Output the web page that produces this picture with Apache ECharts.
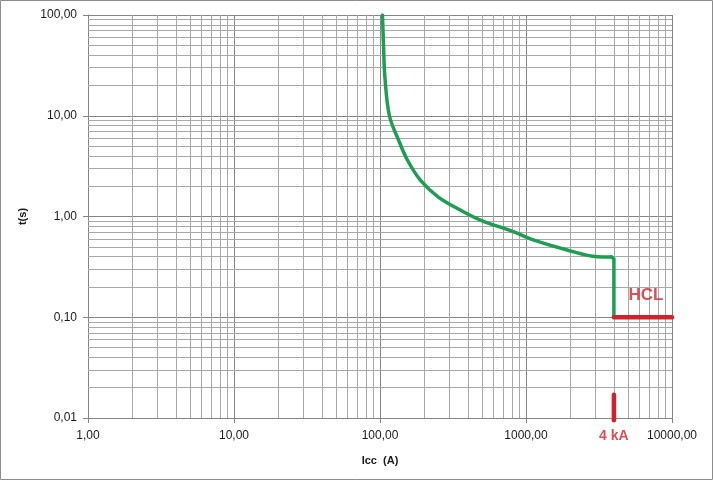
<!DOCTYPE html>
<html>
<head>
<meta charset="utf-8">
<script src="https://cdn.jsdelivr.net/npm/echarts@6/dist/echarts.min.js"></script>
<style>
html,body{margin:0;padding:0;background:#fff;}
#chart{width:713px;height:480px;}
</style>
</head>
<body>
<div id="chart"></div>
<script>
// Trip curve (Icc in A, t in s) - smooth part
var curveX = [104, 105.7, 108, 116, 134, 154, 189, 251, 355, 487, 818, 1121, 1914, 3070, 3850];
var curveY = [100, 50, 24.3, 10, 5.74, 3.64, 2.30, 1.56, 1.16, 0.923, 0.707, 0.585, 0.465, 0.399, 0.397];
// Trip curve - final step down to HCL
var stepX = [3850, 3960, 4000, 4000];
var stepY = [0.397, 0.395, 0.38, 0.1];
// HCL segment
var hclX = [4000, 10000];
var hclY = [0.1, 0.1];
// 4 kA marker
var markX = [4000, 4000];
var markY = [0.0095, 0.017];
var hclLabelPos = [6640, 0.166];
// axes
var xMin = 1, xMax = 10000, yMin = 0.01, yMax = 100;
var mantissas = [2, 3, 4, 5, 6, 7, 8, 9];
var xDecades = [1, 10, 100, 1000];
var yDecades = [0.01, 0.1, 1, 10];

var minorX = [], minorY = [];
xDecades.forEach(function (d) { mantissas.forEach(function (m) { minorX.push({ xAxis: +(m * d).toPrecision(6) }); }); });
yDecades.forEach(function (d) { mantissas.forEach(function (m) { minorY.push({ yAxis: +(m * d).toPrecision(6) }); }); });

function zip(a, b) { return a.map(function (v, i) { return [v, b[i]]; }); }
function fmt(v) { return (+v).toFixed(2).replace('.', ','); }

var RED = '#d2232c';
var GREEN = '#1e9e52';
var chart = echarts.init(document.getElementById('chart'), null, { renderer: 'canvas' });
chart.setOption({
  backgroundColor: '#fff',
  animation: false,
  textStyle: { fontFamily: 'Liberation Sans, Arial, sans-serif' },
  grid: { left: 88, right: 41, top: 15, bottom: 62 },
  graphic: [{
    type: 'rect', silent: true, z: 100,
    shape: { x: 0.5, y: 0.5, width: 712, height: 479 },
    style: { fill: 'none', stroke: '#8c8c8c', lineWidth: 1 }
  }],
  xAxis: {
    type: 'log', logBase: 10, min: xMin, max: xMax,
    name: 'Icc  (A)', nameLocation: 'middle', nameGap: 37,
    nameTextStyle: { fontSize: 11, fontWeight: 'bold', color: '#1a1a1a' },
    axisLine: { show: true, lineStyle: { color: '#858585', width: 1 } },
    axisTick: { show: true, length: 5, lineStyle: { color: '#858585' } },
    axisLabel: { margin: 12, fontSize: 12, color: '#1a1a1a', formatter: fmt },
    splitLine: { show: true, lineStyle: { color: '#858585', width: 1 } }
  },
  yAxis: {
    type: 'log', logBase: 10, min: yMin, max: yMax,
    name: 't(s)', nameLocation: 'middle', nameGap: 60, nameRotate: 90,
    nameTextStyle: { fontSize: 11, fontWeight: 'bold', color: '#1a1a1a' },
    axisLine: { show: true, lineStyle: { color: '#858585', width: 1 } },
    axisTick: { show: true, length: 5, lineStyle: { color: '#858585' } },
    axisLabel: { margin: 11, fontSize: 12, color: '#1a1a1a', formatter: fmt },
    splitLine: { show: true, lineStyle: { color: '#858585', width: 1 } }
  },
  series: [
    {
      type: 'line', data: [], z: 1, silent: true,
      markLine: {
        silent: true, symbol: 'none', animation: false,
        label: { show: false },
        lineStyle: { color: '#a8a8a8', type: 'solid', width: 1 },
        emphasis: { disabled: true },
        data: minorX.concat(minorY)
      }
    },
    {
      type: 'line', data: zip(curveX, curveY), z: 5, symbol: 'none',
      smooth: 0.35,
      lineStyle: { color: GREEN, width: 3.5, cap: 'round', join: 'round' }
    },
    {
      type: 'line', data: zip(stepX, stepY), z: 5, symbol: 'none', smooth: false,
      lineStyle: { color: GREEN, width: 3.5, cap: 'round', join: 'round' }
    },
    {
      type: 'line', data: zip(hclX, hclY), z: 6, symbol: 'none',
      lineStyle: { color: RED, width: 4.5, cap: 'round' }
    },
    {
      type: 'line', data: zip(markX, markY), z: 6, symbol: 'none', clip: false,
      lineStyle: { color: RED, width: 4.5, cap: 'round' }
    },
    {
      type: 'scatter', z: 7, symbolSize: 0, silent: true, clip: false,
      data: [
        { value: [markX[0], yMin], label: { show: true, formatter: '4 kA', position: 'bottom', distance: 11, fontSize: 14, fontWeight: 'bold', color: RED } },
        { value: hclLabelPos, label: { show: true, formatter: 'HCL', position: 'inside', fontSize: 17, fontWeight: 'bold', color: RED } }
      ]
    }
  ]
});
</script>
</body>
</html>
